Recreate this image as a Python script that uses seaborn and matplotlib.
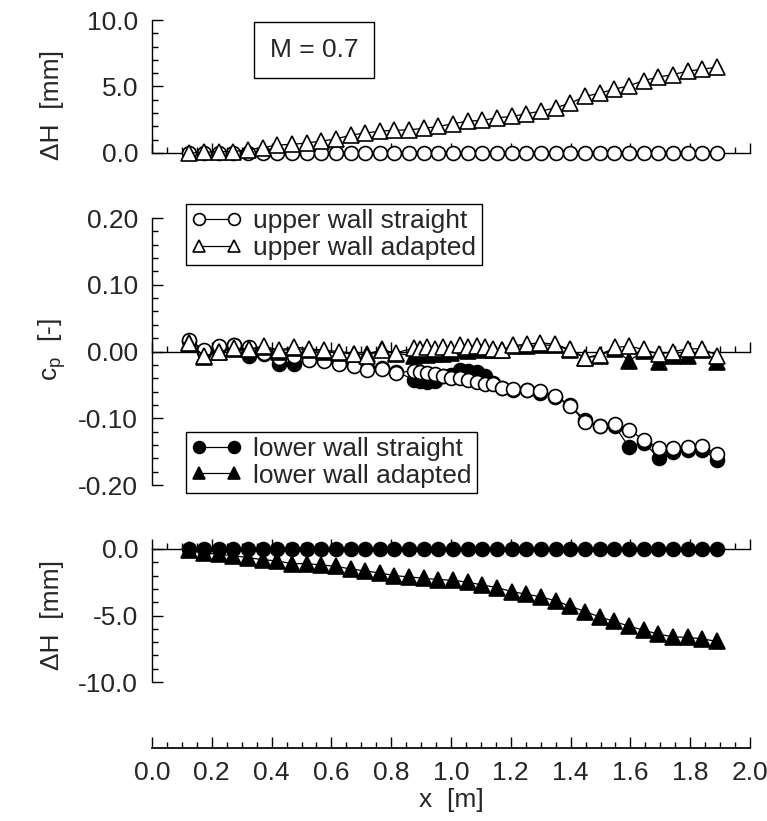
import matplotlib
matplotlib.use("Agg")
import matplotlib.pyplot as plt
import seaborn as sns
import pandas as pd
from matplotlib.ticker import MultipleLocator, FormatStrFormatter, NullFormatter
from matplotlib.lines import Line2D

# ---------------- data ----------------
x_dh = [0.125, 0.174, 0.223, 0.272, 0.321, 0.370, 0.419, 0.468, 0.517, 0.566,
        0.615, 0.664, 0.713, 0.762, 0.811, 0.860, 0.909, 0.958, 1.007, 1.056,
        1.105, 1.154, 1.203, 1.252, 1.301, 1.350, 1.399, 1.448, 1.497, 1.546,
        1.595, 1.644, 1.693, 1.742, 1.791, 1.840, 1.889]
dh_upper_straight = [0, 0, 0, 0, 0, 0, 0, 0, 0, 0, 0, 0, 0, 0, 0, 0, 0, 0, 0,
                     0, 0, 0, 0, 0, 0, 0, 0, 0, 0, 0, 0, 0, 0, 0, 0, 0, 0]
dh_upper_adapted = [0.0, 0.05, 0.1, 0.1, 0.25, 0.4, 0.6, 0.65, 0.75, 0.9,
                    1.05, 1.35, 1.5, 1.65, 1.7, 1.75, 1.85, 2.0, 2.2, 2.4,
                    2.45, 2.65, 2.75, 2.95, 3.15, 3.4, 3.75, 4.25, 4.5, 4.8,
                    5.05, 5.45, 5.7, 5.9, 6.15, 6.3, 6.45]
dh_lower_straight = [0, 0, 0, 0, 0, 0, 0, 0, 0, 0, 0, 0, 0, 0, 0, 0, 0, 0, 0,
                     0, 0, 0, 0, 0, 0, 0, 0, 0, 0, 0, 0, 0, 0, 0, 0, 0, 0]
dh_lower_adapted = [-0.1, -0.3, -0.4, -0.5, -0.65, -0.8, -0.9, -1.1, -1.1, -1.2,
                    -1.3, -1.5, -1.65, -1.8, -2.0, -2.1, -2.2, -2.3, -2.35, -2.5,
                    -2.7, -2.9, -3.2, -3.4, -3.6, -3.9, -4.3, -4.7, -5.1, -5.45,
                    -5.8, -6.1, -6.4, -6.6, -6.65, -6.75, -6.95]

x_cp = [0.125, 0.175, 0.225, 0.275, 0.325, 0.375, 0.425, 0.475, 0.525, 0.575,
        0.625, 0.675, 0.720, 0.770, 0.815, 0.875, 0.897, 0.920, 0.946, 0.974,
        1.000, 1.030, 1.058, 1.086, 1.114, 1.141, 1.170, 1.208, 1.253, 1.298,
        1.348, 1.398, 1.448, 1.498, 1.548, 1.595, 1.646, 1.696, 1.743, 1.793,
        1.841, 1.891]
cp_upper_straight = [0.0175, 0.002, 0.008, 0.010, 0.006, -0.002, -0.009, -0.006, -0.012, -0.014,
                     -0.018, -0.022, -0.027, -0.026, -0.032, -0.029, -0.030, -0.032, -0.034, -0.036,
                     -0.039, -0.040, -0.042, -0.045, -0.048, -0.049, -0.054, -0.056, -0.057, -0.059,
                     -0.066, -0.081, -0.106, -0.111, -0.108, -0.117, -0.133, -0.145, -0.144, -0.143,
                     -0.142, -0.154]
cp_lower_straight = [0.015, 0.000, 0.007, 0.009, -0.007, -0.003, -0.018, -0.019, -0.010, -0.013,
                     -0.016, -0.020, -0.025, -0.025, -0.030, -0.042, -0.044, -0.046, -0.044, -0.036,
                     -0.035, -0.027, -0.029, -0.030, -0.036, -0.047, -0.055, -0.057, -0.058, -0.062,
                     -0.068, -0.080, -0.103, -0.112, -0.112, -0.143, -0.137, -0.160, -0.150, -0.148,
                     -0.147, -0.162]
cp_upper_adapted = [0.013, -0.007, 0.000, 0.005, 0.004, 0.008, 0.002, 0.007, 0.004, 0.002,
                    0.000, -0.003, -0.006, 0.002, -0.002, 0.005, 0.003, 0.007, 0.004, 0.006,
                    0.003, 0.010, 0.006, 0.008, 0.006, 0.003, 0.002, 0.009, 0.011, 0.013,
                    0.011, 0.003, -0.009, -0.005, 0.006, 0.008, 0.003, -0.004, 0.000, 0.004,
                    0.004, -0.006]
cp_lower_adapted = [0.012, -0.008, 0.000, 0.004, 0.003, 0.006, 0.000, 0.005, 0.002, 0.000,
                    -0.002, -0.004, -0.004, 0.003, -0.003, -0.006, -0.004, -0.005, -0.004, -0.003,
                    -0.002, 0.002, 0.001, 0.003, 0.002, 0.002, 0.002, 0.008, 0.008, 0.010,
                    0.009, 0.002, -0.010, -0.006, 0.004, -0.014, 0.001, -0.015, -0.006, -0.006,
                    0.002, -0.016]

x_ticks = [0.0, 0.2, 0.4, 0.6, 0.8, 1.0, 1.2, 1.4, 1.6, 1.8, 2.0]

# ---------------- style ----------------
sns.set_theme(style="white")
plt.rcParams['font.family'] = ['Liberation Sans', 'DejaVu Sans']
plt.rcParams['mathtext.default'] = 'regular'
plt.rcParams['axes.unicode_minus'] = False
FS = 19

W, H = 767, 821
fig = plt.figure(figsize=(W / 100, H / 100), dpi=100)
fig.patch.set_facecolor('white')

L = 152 / W
AW = 598 / W


def axes_px(top, bottom):
    return fig.add_axes([L, 1 - bottom / H, AW, (bottom - top) / H])


ax_top = axes_px(20, 153)
ax_mid = axes_px(218, 485)
ax_bot = axes_px(549, 682)
ax_x = fig.add_axes([L, 1 - 748 / H, AW, 0.0005])

OPEN = dict(color='black', markerfacecolor='white', markeredgecolor='black',
            markeredgewidth=1.2, linewidth=0.9, clip_on=False)
FILL = dict(color='black', markerfacecolor='black', markeredgecolor='black',
            markeredgewidth=1.2, linewidth=0.9, clip_on=False)
MS_C = 10
MS_T = 11


def draw(ax, x, y, marker, kw, z):
    df = pd.DataFrame({'x': x, 'y': y})
    ms = MS_C if marker == 'o' else MS_T
    sns.lineplot(data=df, x='x', y='y', ax=ax, marker=marker, markersize=ms,
                 sort=False, estimator=None, zorder=z, legend=False, **kw)


def style(ax, ylim, major, minor, fmt):
    ax.set_facecolor('none')
    ax.set_xlim(0, 2.0)
    ax.set_ylim(*ylim)
    ax.set_xlabel('')
    ax.set_ylabel('')
    for s in ['top', 'right']:
        ax.spines[s].set_visible(False)
    ax.spines['bottom'].set_position(('data', 0))
    for s in ['left', 'bottom']:
        ax.spines[s].set_color('black')
        ax.spines[s].set_linewidth(1.0)
    ax.yaxis.set_major_locator(MultipleLocator(major))
    ax.yaxis.set_minor_locator(MultipleLocator(minor))
    ax.yaxis.set_major_formatter(FormatStrFormatter(fmt))
    ax.set_xticks(x_ticks)
    ax.xaxis.set_minor_locator(MultipleLocator(0.05))
    ax.xaxis.set_major_formatter(NullFormatter())
    ax.tick_params(axis='y', which='both', direction='in', left=True, right=False,
                   color='black', labelsize=FS, pad=10, width=1.0)
    ax.tick_params(axis='y', which='major', length=8)
    ax.tick_params(axis='y', which='minor', length=4)
    ax.tick_params(axis='x', which='both', direction='in', bottom=True, top=False,
                   color='black', labelbottom=False, width=1.0)
    ax.tick_params(axis='x', which='major', length=7)
    ax.tick_params(axis='x', which='minor', length=4)
    ax.grid(False)


# top panel
draw(ax_top, x_dh, dh_upper_straight, 'o', OPEN, 3)
draw(ax_top, x_dh, dh_upper_adapted, '^', OPEN, 4)
style(ax_top, (0, 10), 5, 1, '%.1f')

# middle panel
draw(ax_mid, x_cp, cp_lower_straight, 'o', FILL, 3)
draw(ax_mid, x_cp, cp_upper_straight, 'o', OPEN, 4)
draw(ax_mid, x_cp, cp_lower_adapted, '^', FILL, 5)
draw(ax_mid, x_cp, cp_upper_adapted, '^', OPEN, 6)
style(ax_mid, (-0.2, 0.2), 0.1, 0.02, '%.2f')

# bottom panel
draw(ax_bot, x_dh, dh_lower_straight, 'o', FILL, 3)
draw(ax_bot, x_dh, dh_lower_adapted, '^', FILL, 4)
style(ax_bot, (-10, 0), 5, 1, '%.1f')

# separate x axis
ax_x.set_facecolor('none')
ax_x.set_xlim(0, 2.0)
for s in ['top', 'right', 'left']:
    ax_x.spines[s].set_visible(False)
ax_x.spines['bottom'].set_color('black')
ax_x.set_yticks([])
ax_x.set_xticks(x_ticks)
ax_x.xaxis.set_minor_locator(MultipleLocator(0.05))
ax_x.xaxis.set_major_formatter(FormatStrFormatter('%.1f'))
ax_x.tick_params(axis='x', which='both', direction='in', bottom=True, color='black',
                 labelsize=FS, pad=9, width=1.0)
ax_x.tick_params(axis='x', which='major', length=8)
ax_x.tick_params(axis='x', which='minor', length=4)

# axis titles
fig.text(52 / W, 1 - 105 / H, 'ΔH  [mm]', rotation=90, ha='center', va='center', fontsize=FS)
fig.text(52 / W, 1 - 350 / H, 'c$_{p}$  [-]', rotation=90, ha='center', va='center', fontsize=FS)
fig.text(52 / W, 1 - 615 / H, 'ΔH  [mm]', rotation=90, ha='center', va='center', fontsize=FS)
fig.text(451 / W, 1 - 800 / H, 'x  [m]', ha='center', va='center', fontsize=FS)

# Mach number box
fig.text(314 / W, 1 - 50 / H, 'M = 0.7', ha='center', va='center', fontsize=FS,
         bbox=dict(boxstyle='square,pad=0.6', facecolor='white', edgecolor='black', linewidth=1.0))

# legends
def handle(marker, kw):
    ms = MS_C if marker == 'o' else MS_T
    return Line2D([], [], marker=marker, markersize=ms * 0.85, **{k: v for k, v in kw.items() if k != 'clip_on'})


leg_kw = dict(fontsize=FS, frameon=True, fancybox=False, framealpha=1, edgecolor='black',
              numpoints=2, handlelength=1.9, handletextpad=0.45, borderpad=0.2,
              labelspacing=0.1, borderaxespad=0)
leg1 = ax_mid.legend([handle('o', OPEN), handle('^', OPEN)],
                     ['upper wall straight', 'upper wall adapted'],
                     loc='upper left', bbox_to_anchor=((186 - 152) / 598, 1 + 14 / 267), **leg_kw)
leg1.get_frame().set_linewidth(1.0)
ax_mid.add_artist(leg1)
leg2 = ax_mid.legend([handle('o', FILL), handle('^', FILL)],
                     ['lower wall straight', 'lower wall adapted'],
                     loc='lower left', bbox_to_anchor=((186 - 152) / 598, -8 / 267), **leg_kw)
leg2.get_frame().set_linewidth(1.0)

fig.savefig('out.png', dpi=100, facecolor='white')
